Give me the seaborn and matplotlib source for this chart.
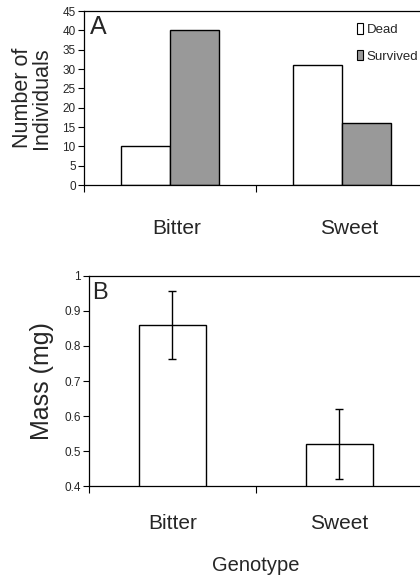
import matplotlib
matplotlib.use("Agg")
import matplotlib.pyplot as plt
import seaborn as sns
import pandas as pd

sns.set_theme(style="white")
plt.rcParams['font.family'] = ['Liberation Sans', 'DejaVu Sans']

# ---- data ----
genotypes = ["Bitter", "Sweet"]
outcomes = ["Dead", "Survived"]
dead_counts = [10, 31]
survived_counts = [40, 16]
mass_mg = [0.86, 0.52]
mass_err = [0.097, 0.10]
yticks_a = [0, 5, 10, 15, 20, 25, 30, 35, 40, 45]
yticks_b = [0.4, 0.5, 0.6, 0.7, 0.8, 0.9, 1.0]
yticklabels_b = ["0.4", "0.5", "0.6", "0.7", "0.8", "0.9", "1"]

df_a = pd.DataFrame({
    "Genotype": genotypes * 2,
    "Outcome": [outcomes[0]] * 2 + [outcomes[1]] * 2,
    "Count": dead_counts + survived_counts,
})

fig = plt.figure(figsize=(4.2, 5.82), dpi=100)
fig.patch.set_facecolor("white")

axA = fig.add_axes([0.2, 0.6821, 0.819, 0.2989])
axB = fig.add_axes([0.2119, 0.1649, 0.795, 0.3609])

# ---- Panel A ----
sns.barplot(data=df_a, x="Genotype", y="Count", hue="Outcome",
            palette={"Dead": "white", "Survived": "#999999"},
            edgecolor="black", linewidth=1.0, width=0.57, gap=0,
            errorbar=None, ax=axA)
axA.set_ylim(0, 45)
axA.set_xlim(-0.5, 1.5)
axA.set_yticks(yticks_a)
axA.set_yticklabels([str(v) for v in yticks_a], fontsize=8.5)
axA.set_ylabel("Number of\nIndividuals", fontsize=15.5, linespacing=0.88)
axA.yaxis.set_label_coords(-0.093, 0.5)
axA.set_xlabel("")
leg = axA.legend(loc="upper right", bbox_to_anchor=(0.972, 0.93), frameon=False,
                 handlelength=0.5, handleheight=0.85, handletextpad=0.25,
                 labelspacing=1.05, borderpad=0, borderaxespad=0, fontsize=9.5)
for h in leg.legend_handles:
    h.set_edgecolor("black")
    h.set_linewidth(0.8)
leg._legend_box.align = "left"
axA.text(6 / 344, 1 - 4 / 174, "A", transform=axA.transAxes, fontsize=18,
         va="top", ha="left")

# ---- Panel B ----
sns.barplot(x=genotypes, y=mass_mg, color="white", edgecolor="black",
            linewidth=1.0, width=0.4, errorbar=None, ax=axB)
axB.errorbar(x=[0, 1], y=mass_mg, yerr=mass_err, fmt="none", ecolor="black",
             elinewidth=1.0, capsize=3.2, capthick=1.0)
axB.set_ylim(0.4, 1.0)
axB.set_xlim(-0.5, 1.5)
axB.set_yticks(yticks_b)
axB.set_yticklabels(yticklabels_b, fontsize=8.5)
axB.set_ylabel("Mass (mg)", fontsize=18)
axB.yaxis.set_label_coords(-0.105, 0.5)
axB.set_xlabel("Genotype", fontsize=14.5)
axB.xaxis.set_label_coords(0.5, -0.335)
axB.text(3 / 334, 1 - 6 / 210, "B", transform=axB.transAxes, fontsize=17,
         va="top", ha="left")

for ax, pad, centers in ((axA, 24.3, [0.04, 1.04]), (axB, 20, [0.0, 1.0])):
    ax.set_xticks([-0.5, 0.5, 1.5])
    ax.set_xticklabels(["", "", ""])
    ax.set_xticks(centers, minor=True)
    ax.set_xticklabels(genotypes, minor=True, fontsize=15)
    ax.tick_params(axis="x", which="major", direction="out", length=5, width=0.8,
                   color="black", bottom=True)
    ax.tick_params(axis="x", which="minor", length=0, pad=pad, bottom=True)
    ax.tick_params(axis="y", direction="out", length=4, width=0.8, color="black",
                   left=True, pad=2)
    for s in ("left", "bottom", "top"):
        ax.spines[s].set_visible(True)
        ax.spines[s].set_color("black")
        ax.spines[s].set_linewidth(0.9)
    ax.spines["right"].set_visible(False)
    ax.set_facecolor("white")

fig.savefig("out.png", dpi=100, facecolor="white")
